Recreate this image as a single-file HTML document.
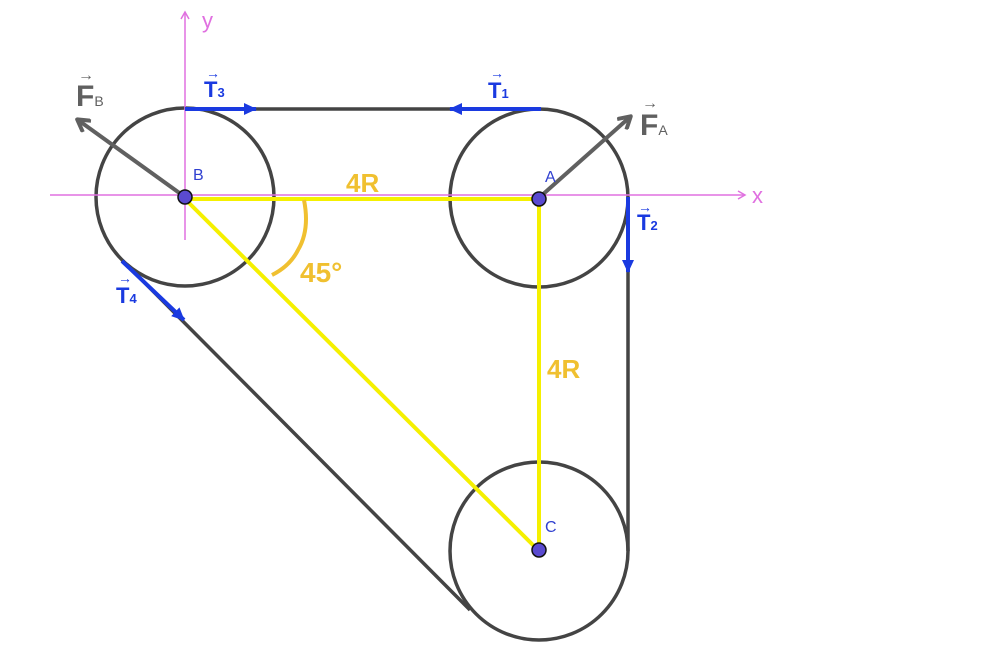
<!DOCTYPE html>
<html><head><meta charset="utf-8"><style>body{margin:0;background:#fff}svg{display:block}</style></head><body>
<svg width="998" height="654" viewBox="0 0 998 654" xmlns="http://www.w3.org/2000/svg" font-family="Liberation Sans, sans-serif">
<defs>
<marker id="pk" markerWidth="10" markerHeight="10" refX="8" refY="5" orient="auto" markerUnits="userSpaceOnUse"><path d="M1,1 L8,5 L1,9" fill="none" stroke="#e070e0" stroke-width="1.5"/></marker>
<marker id="bl" markerWidth="14" markerHeight="14" refX="12" refY="7" orient="auto" markerUnits="userSpaceOnUse"><path d="M0,1 L13,7 L0,13 z" fill="#1a3ae0"/></marker>
<marker id="gr" markerWidth="16" markerHeight="16" refX="12" refY="8" orient="auto" markerUnits="userSpaceOnUse"><path d="M1,1 L13,8 L1,15" fill="none" stroke="#606060" stroke-width="4" stroke-linejoin="round"/></marker>
</defs>
<g stroke="#444" stroke-width="3.5" fill="none">
<circle cx="185" cy="197" r="89"/>
<circle cx="539" cy="198" r="89"/>
<circle cx="539" cy="551" r="89"/>
<line x1="185" y1="109" x2="539" y2="109"/>
<line x1="628" y1="198" x2="628" y2="551"/>
<line x1="122" y1="260" x2="470" y2="610"/>
</g>
<g stroke="#e070e0" stroke-width="1.5">
<line x1="50" y1="195" x2="745" y2="195" marker-end="url(#pk)"/>
<line x1="185" y1="240" x2="185" y2="12" marker-end="url(#pk)"/>
</g>
<g stroke="#f5f000" stroke-width="4" fill="none">
<line x1="185" y1="199" x2="539" y2="199"/>
<line x1="539" y1="199" x2="539" y2="551"/>
<line x1="185" y1="199" x2="539" y2="551"/>
</g>
<path d="M304,200 Q310,230 298,250 Q290,266 272,275" stroke="#f0c030" stroke-width="4" fill="none"/>
<g stroke="#1a3ae0" stroke-width="4">
<line x1="185" y1="109" x2="256" y2="109" marker-end="url(#bl)"/>
<line x1="541" y1="109" x2="450" y2="109" marker-end="url(#bl)"/>
<line x1="628" y1="197" x2="628" y2="272" marker-end="url(#bl)"/>
<line x1="122" y1="261" x2="184" y2="320" marker-end="url(#bl)"/>
</g>
<g stroke="#606060" stroke-width="4">
<line x1="185" y1="197" x2="78" y2="120" marker-end="url(#gr)"/>
<line x1="541" y1="196" x2="630" y2="117" marker-end="url(#gr)"/>
</g>
<g fill="#5a4ad0" stroke="#111" stroke-width="1.5">
<circle cx="185" cy="197" r="7"/><circle cx="539" cy="199" r="7"/><circle cx="539" cy="550" r="7"/>
</g>
<g fill="#3040d0" font-size="16">
<text x="193" y="180">B</text><text x="545" y="182">A</text><text x="545" y="532">C</text>
</g>
<g fill="#e070e0" font-size="22"><text x="202" y="28">y</text><text x="752" y="203">x</text></g>
<g fill="#f0c030" font-weight="bold" font-size="26">
<text x="346" y="192">4R</text><text x="547" y="378">4R</text><text x="300" y="282" font-size="28">45°</text>
</g>
<g fill="#1a3ae0" font-weight="bold" font-size="22">
<text x="204" y="97">T<tspan font-size="13">3</tspan></text>
<text x="488" y="98">T<tspan font-size="13">1</tspan></text>
<text x="637" y="230">T<tspan font-size="13">2</tspan></text>
<text x="116" y="303">T<tspan font-size="13">4</tspan></text>
<text x="206" y="78" font-size="14">→</text><text x="490" y="78" font-size="14">→</text><text x="638" y="212" font-size="14">→</text><text x="118" y="283" font-size="14">→</text>
</g>
<g fill="#606060" font-weight="bold" font-size="30">
<text x="76" y="106">F<tspan font-size="14" font-weight="normal">B</tspan></text>
<text x="640" y="135">F<tspan font-size="14" font-weight="normal">A</tspan></text>
<text x="78" y="80" font-size="16">→</text><text x="642" y="108" font-size="16">→</text>
</g>
</svg>
</body></html>
